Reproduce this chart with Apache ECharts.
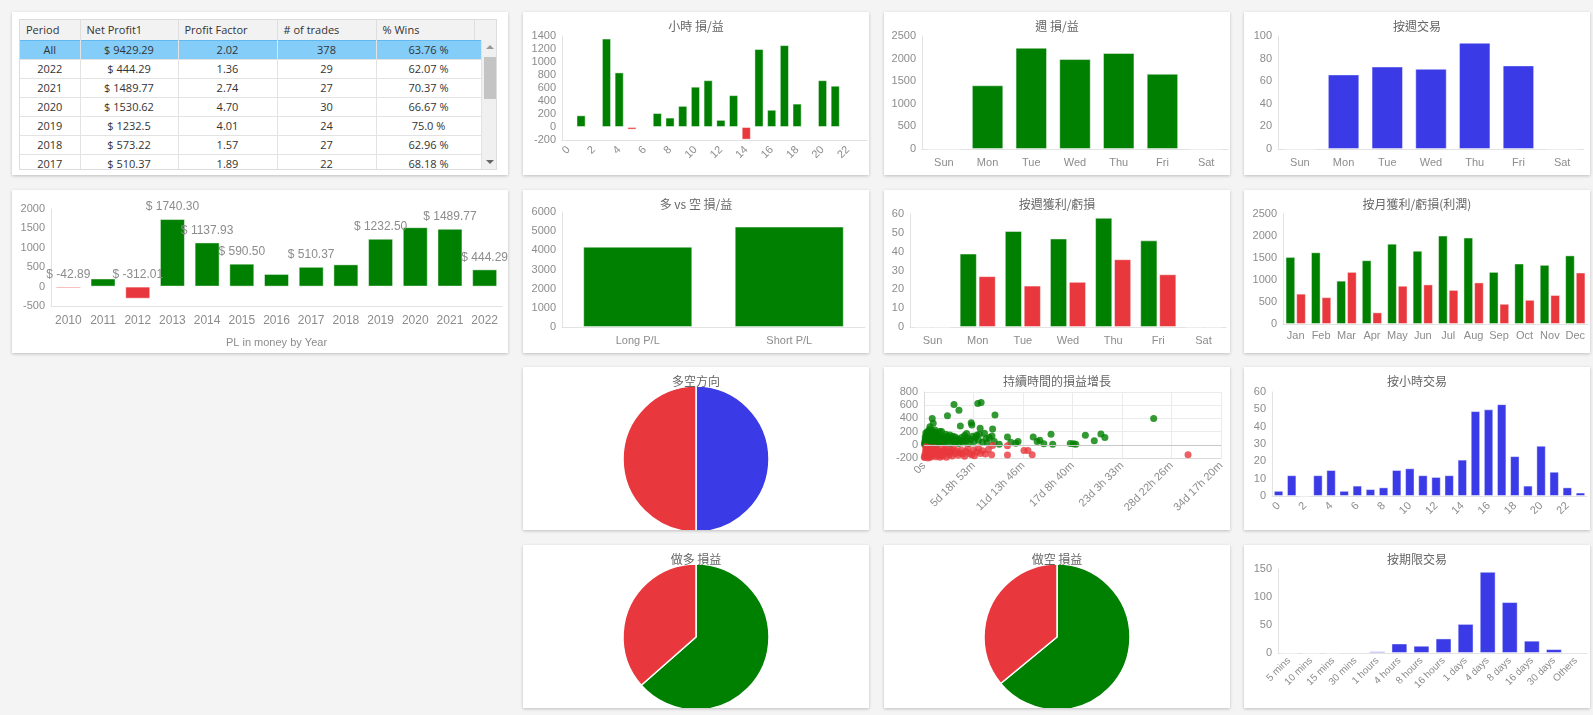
<!DOCTYPE html>
<html><head><meta charset="utf-8">
<script src="https://cdn.jsdelivr.net/npm/echarts@6/dist/echarts.min.js"></script>
<style>
html,body{margin:0;padding:0;background:#f4f4f4;width:1593px;height:715px;overflow:hidden;}
.panel{position:absolute;background:#fff;box-shadow:0 1px 3px rgba(0,0,0,0.22);}
.chart{position:absolute;left:0;top:0;width:100%;height:100%;}
#tbl{position:absolute;left:7px;top:7px;width:478px;height:151px;border:1px solid #dcdcdc;box-sizing:border-box;overflow:hidden;font-family:"Open Sans",sans-serif;font-size:11px;color:#333;}
#tbl table{border-collapse:collapse;table-layout:fixed;}
#hdr td{height:20px;background:#f2f2f2;border-right:1px solid #dedede;border-bottom:1px solid #d6d6d6;padding:0 0 0 6px;text-align:left;box-sizing:border-box;white-space:nowrap;}
#body{position:absolute;left:0;top:20px;width:461px;height:131px;overflow:hidden;}
#body td{height:19px;border-right:1px solid #e3e3e3;border-bottom:1px solid #e3e3e3;text-align:center;padding:0 0 1px 0;box-sizing:border-box;white-space:nowrap;line-height:17px;}
#body tr.sel td{background:#85cdf9;border-top:1px solid #5fb8f0;}
#sb{position:absolute;left:461px;top:20px;width:16px;height:131px;background:#f0f0f0;border-left:1px solid #e3e3e3;}
#sb .up{position:absolute;left:4px;top:5px;width:0;height:0;border-left:4px solid transparent;border-right:4px solid transparent;border-bottom:4px solid #999;}
#sb .dn{position:absolute;left:4px;bottom:7px;width:0;height:0;border-left:4px solid transparent;border-right:4px solid transparent;border-top:4px solid #666;}
#sb .th{position:absolute;left:2px;top:17px;width:12px;height:42px;background:#c4c4c4;}
</style></head>
<body>
<div class="panel" style="left:12px;top:12px;width:496px;height:163px;">
  <div id="tbl">
    <table id="hdr" style="width:478px"><colgroup><col style="width:60px"><col style="width:98px"><col style="width:99px"><col style="width:99px"><col style="width:98px"><col style="width:24px"></colgroup><tbody><tr id="hdrRow"></tr></tbody></table>
    <div id="body"><table style="width:461px"><colgroup><col style="width:60px"><col style="width:98px"><col style="width:99px"><col style="width:99px"><col style="width:105px"></colgroup><tbody id="rows"></tbody></table></div>
    <div id="sb"><div class="up"></div><div class="th"></div><div class="dn"></div></div>
  </div>
</div>
<div class="panel" style="left:12px;top:190px;width:496px;height:163px;"><div class="chart" id="cYear"></div></div>

<div class="panel" style="left:523px;top:12px;width:346px;height:163px;"><div class="chart" id="cHourPL"></div></div>
<div class="panel" style="left:884px;top:12px;width:346px;height:163px;"><div class="chart" id="cWeekPL"></div></div>
<div class="panel" style="left:1244px;top:12px;width:346px;height:163px;"><div class="chart" id="cWeekTr"></div></div>

<div class="panel" style="left:523px;top:190px;width:346px;height:163px;"><div class="chart" id="cLS"></div></div>
<div class="panel" style="left:884px;top:190px;width:346px;height:163px;"><div class="chart" id="cWeekWL"></div></div>
<div class="panel" style="left:1244px;top:190px;width:346px;height:163px;"><div class="chart" id="cMonth"></div></div>

<div class="panel" style="left:523px;top:367px;width:346px;height:163px;"><div class="chart" id="cDir"></div></div>
<div class="panel" style="left:884px;top:367px;width:346px;height:163px;"><div class="chart" id="cScatter"></div></div>
<div class="panel" style="left:1244px;top:367px;width:346px;height:163px;"><div class="chart" id="cHourTr"></div></div>

<div class="panel" style="left:523px;top:545px;width:346px;height:163px;"><div class="chart" id="cLongPie"></div></div>
<div class="panel" style="left:884px;top:545px;width:346px;height:163px;"><div class="chart" id="cShortPie"></div></div>
<div class="panel" style="left:1244px;top:545px;width:346px;height:163px;"><div class="chart" id="cDur"></div></div>

<script>
// ---------------- DATA ----------------
const tableHeaders = ['Period', 'Net Profit1', 'Profit Factor', '# of trades', '% Wins', ''];
const tablePeriods = ['All', '2022', '2021', '2020', '2019', '2018', '2017'];
const tableNetProfit = ['$ 9429.29', '$ 444.29', '$ 1489.77', '$ 1530.62', '$ 1232.5', '$ 573.22', '$ 510.37'];
const tableProfitFactor = ['2.02', '1.36', '2.74', '4.70', '4.01', '1.57', '1.89'];
const tableTrades = ['378', '29', '27', '30', '24', '27', '22'];
const tableWins = ['63.76 %', '62.07 %', '70.37 %', '66.67 %', '75.0 %', '62.96 %', '68.18 %'];

const years = ['2010','2011','2012','2013','2014','2015','2016','2017','2018','2019','2020','2021','2022'];
const yearPL = [-42.89, 208.50, -312.01, 1740.30, 1137.93, 590.50, 326.19, 510.37, 573.22, 1232.50, 1530.62, 1489.77, 444.29];
const hiddenYearLabels = ['2011','2016','2018','2020'];

const hours = ['0','1','2','3','4','5','6','7','8','9','10','11','12','13','14','15','16','17','18','19','20','21','22','23'];
const hourPL = [5, 180, 0, 1360, 840, -40, 15, 215, 145, 325, 620, 720, 110, 490, -195, 1200, 265, 1260, 360, -15, 720, 635, 8, 15];
const hourTrades = [3, 12, 0, 12, 15, 3, 6, 4, 5, 15, 16, 12, 11, 12, 21, 49, 50, 53, 23, 6, 29, 14, 5, 2];

const weekdays = ['Sun','Mon','Tue','Wed','Thu','Fri','Sat'];
const weekPL = [0, 1410, 2240, 1990, 2125, 1665, 0];
const weekTrades = [0, 66, 73, 71, 94, 74, 0];
const weekWins = [0, 39, 51, 47, 58, 46, 0];
const weekLosses = [0, 27, 22, 24, 36, 28, 0];

const lsCats = ['Long P/L', 'Short P/L'];
const lsPL = [4190, 5240];

const months = ['Jan','Feb','Mar','Apr','May','Jun','Jul','Aug','Sep','Oct','Nov','Dec'];
const monthProfit = [1525, 1630, 985, 1450, 1825, 1665, 2010, 1965, 1185, 1375, 1345, 1560];
const monthLoss = [690, 610, 1185, 265, 870, 900, 775, 945, 460, 550, 660, 1170];

const dirNames = ['Long', 'Short'];
const dirCounts = [189, 189];
const longWinLoss = [120, 69];
const shortWinLoss = [121, 68];

const durCats = ['5 mins','10 mins','15 mins','30 mins','1 hours','4 hours','8 hours','16 hours','1 days','4 days','8 days','16 days','30 days','Others'];
const durTrades = [0, 0, 0, 1, 3, 17, 13, 26, 52, 145, 91, 22, 7, 1];

// duration (seconds) vs P/L
const scatterWin = [[5000,10],[8000,30],[10000,60],[12000,120],[14000,20],[18000,180],[20000,90],[22000,40],[25000,150],[28000,70],[30000,10],[33000,110],[36000,200],[38000,50],[40000,140],[43000,190],[45000,30],[48000,90],[50000,160],[53000,60],[56000,230],[60000,275],[62000,120],[65000,20],[68000,80],[70000,170],[73000,40],[76000,130],[80000,210],[83000,400],[86000,60],[90000,100],[93000,325],[96000,150],[100000,30],[105000,190],[110000,225],[113000,80],[118000,120],[122000,50],[126000,170],[130000,100],[135000,20],[140000,140],[145000,60],[150000,90],[158000,200],[165000,40],[170000,120],[177000,200],[185000,70],[195000,100],[205000,30],[215000,90],[225000,130],[237000,440],[245000,60],[255000,110],[265000,20],[275000,80],[285000,100],[295000,50],[303000,610],[315000,120],[325000,40],[340000,90],[353000,525],[360000,70],[367000,285],[380000,110],[395000,30],[410000,140],[425000,60],[440000,100],[455000,20],[470000,80],[477000,335],[483000,300],[490000,130],[505000,50],[520000,110],[535000,150],[543000,625],[550000,70],[560000,160],[567000,250],[577000,640],[590000,40],[610000,175],[625000,90],[640000,30],[660000,110],[687000,135],[693000,240],[710000,50],[717000,450],[760000,10],[843000,120],[877000,40],[927000,25],[950000,50],[1103000,120],[1143000,50],[1170000,70],[1210000,15],[1283000,160],[1300000,10],[1477000,20],[1510000,15],[1533000,10],[1630000,145],[1720000,60],[1787000,165],[1827000,110],[2320000,400],[15000,75],[35000,25],[55000,105],[75000,55],[95000,85],[115000,15],[135000,65],[155000,35],[175000,95],[200000,45],[220000,160],[260000,150],[290000,130],[320000,70],[350000,20],[385000,60],[430000,170]];
const scatterLoss = [[3000,-190],[8000,-150],[10000,-190],[15000,-100],[20000,-60],[25000,-170],[30000,-130],[35000,-80],[40000,-200],[45000,-110],[50000,-160],[55000,-40],[60000,-140],[65000,-190],[70000,-90],[75000,-120],[80000,-170],[90000,-60],[100000,-150],[110000,-100],[120000,-180],[130000,-70],[140000,-130],[150000,-160],[160000,-190],[170000,-110],[180000,-50],[190000,-150],[200000,-90],[210000,-130],[227000,-190],[240000,-70],[255000,-150],[270000,-110],[285000,-170],[300000,-60],[315000,-130],[330000,-90],[345000,-160],[360000,-120],[375000,-80],[390000,-140],[410000,-175],[425000,-100],[440000,-60],[460000,-130],[480000,-150],[500000,-80],[510000,-165],[530000,-110],[550000,-50],[570000,-130],[590000,-90],[620000,-140],[650000,-70],[683000,-150],[693000,-10],[843000,-15],[843000,-155],[1010000,-85],[1050000,-85],[1093000,-150],[2667000,-150],[18000,-30],[38000,-175],[58000,-95],[85000,-130],[105000,-45],[125000,-120],[145000,-85],[165000,-145],[185000,-175],[215000,-60],[250000,-120],[280000,-80]];

// ---------------- TABLE ----------------
document.getElementById('hdrRow').innerHTML = tableHeaders.map(h => '<td>' + h + '</td>').join('');
document.getElementById('rows').innerHTML = tablePeriods.map((p, i) =>
  '<tr' + (i === 0 ? ' class="sel"' : '') + '><td>' + p + '</td><td>' + tableNetProfit[i] + '</td><td>' +
  tableProfitFactor[i] + '</td><td>' + tableTrades[i] + '</td><td>' + tableWins[i] + '</td></tr>').join('');

// ---------------- CHARTS ----------------
const GREEN = '#008000', RED = '#e8383d', BLUE = '#3a3be6';
const FONT = '"Liberation Sans", Arial, sans-serif';
const NARROW = '"Liberation Sans Narrow", "Liberation Sans", Arial, sans-serif';
const BORDER = 'rgba(255,255,255,0.45)';
const plain = v => String(v);

function title(t) {
  return {text: t, left: 'center', top: 3, textStyle: {fontSize: 12, fontWeight: 'normal', color: '#666', fontFamily: '"Noto Sans CJK TC", sans-serif'}};
}
function lbl(ff, extra) { return Object.assign({color: '#8c8c8c', fontSize: 11, fontFamily: ff || FONT}, extra || {}); }
function catAxis(data, ff, extra) {
  return Object.assign({type: 'category', data: data, axisTick: {show: false},
    axisLine: {onZero: false, lineStyle: {color: '#e2e2e2'}}, axisLabel: lbl(ff, {interval: 0, margin: 8})}, extra || {});
}
function valAxis(min, max, interval, ff) {
  return {type: 'value', min: min, max: max, interval: interval, axisTick: {show: false},
    axisLine: {show: true, lineStyle: {color: '#e2e2e2'}}, splitLine: {show: false}, axisLabel: lbl(ff, {margin: 6, formatter: plain})};
}
function grid(l, r, t, b) { return {left: l, right: r, top: t, bottom: b, containLabel: false, outerBoundsMode: 'none'}; }
function mk(id, opt) { const c = echarts.init(document.getElementById(id)); opt.animation = false; c.setOption(opt); return c; }
const signColor = p => (p.value < 0 ? RED : GREEN);

// Year P/L
mk('cYear', {
  grid: grid(39, 6, 19, 47),
  xAxis: catAxis(years, FONT, {name: 'PL in money by Year', nameLocation: 'middle', nameGap: 31,
    nameTextStyle: {color: '#8c8c8c', fontSize: 11, fontFamily: FONT}, axisLabel: lbl(FONT, {interval: 0, margin: 9, fontSize: 12})}),
  yAxis: valAxis(-500, 2000, 500),
  series: [{type: 'bar', barCategoryGap: '28%', itemStyle: {color: signColor, borderColor: BORDER, borderWidth: 1},
    data: yearPL.map((v, i) => ({value: v, label: {show: hiddenYearLabels.indexOf(years[i]) < 0}})),
    label: {position: 'top', distance: 6, color: '#8c8c8c', fontSize: 12, fontFamily: FONT, formatter: p => '$ ' + p.value.toFixed(2)}}]
});

// Hourly P/L
mk('cHourPL', {
  title: title('小時 損/益'),
  grid: grid(39, 2, 24, 35),
  xAxis: catAxis(hours, FONT, {axisLabel: lbl(FONT, {interval: 1, rotate: 45, margin: 8})}),
  yAxis: valAxis(-200, 1400, 200),
  series: [{type: 'bar', barCategoryGap: '28%', itemStyle: {color: signColor, borderColor: BORDER, borderWidth: 1}, data: hourPL}]
});

// Week P/L
mk('cWeekPL', {
  title: title('週 損/益'),
  grid: grid(38, 2, 24, 26),
  xAxis: catAxis(weekdays, NARROW),
  yAxis: valAxis(0, 2500, 500, NARROW),
  series: [{type: 'bar', barCategoryGap: '28%', itemStyle: {color: GREEN, borderColor: BORDER, borderWidth: 1}, data: weekPL}]
});

// Week trades
mk('cWeekTr', {
  title: title('按週交易'),
  grid: grid(34, 6, 24, 26),
  xAxis: catAxis(weekdays, NARROW),
  yAxis: valAxis(0, 100, 20, NARROW),
  series: [{type: 'bar', barCategoryGap: '28%', itemStyle: {color: BLUE, borderColor: BORDER, borderWidth: 1}, data: weekTrades}]
});

// Long vs short
mk('cLS', {
  title: title('多 vs 空 損/益'),
  grid: grid(39, 4, 22, 26),
  xAxis: catAxis(lsCats, NARROW),
  yAxis: valAxis(0, 6000, 1000, NARROW),
  series: [{type: 'bar', barCategoryGap: '28%', itemStyle: {color: GREEN, borderColor: BORDER, borderWidth: 1}, data: lsPL}]
});

// Week win/loss counts
mk('cWeekWL', {
  title: title('按週獲利/虧損'),
  grid: grid(26, 4, 24, 26),
  xAxis: catAxis(weekdays, NARROW),
  yAxis: valAxis(0, 60, 10, NARROW),
  series: [
    {type: 'bar', barCategoryGap: '20%', barGap: '10%', itemStyle: {color: GREEN, borderColor: BORDER, borderWidth: 1}, data: weekWins},
    {type: 'bar', barCategoryGap: '20%', barGap: '10%', itemStyle: {color: RED, borderColor: BORDER, borderWidth: 1}, data: weekLosses}]
});

// Monthly
mk('cMonth', {
  title: title('按月獲利/虧損(利潤)'),
  grid: grid(39, 2, 24, 29),
  xAxis: catAxis(months, FONT, {axisLabel: lbl(FONT, {interval: 0, margin: 6})}),
  yAxis: valAxis(0, 2500, 500),
  series: [
    {type: 'bar', barCategoryGap: '20%', barGap: '10%', itemStyle: {color: GREEN, borderColor: BORDER, borderWidth: 1}, data: monthProfit},
    {type: 'bar', barCategoryGap: '20%', barGap: '10%', itemStyle: {color: RED, borderColor: BORDER, borderWidth: 1}, data: monthLoss}]
});

// Scatter duration vs P/L
function fmtDur(s) {
  if (s === 0) return '0s';
  const d = Math.floor(s / 86400), h = Math.floor((s % 86400) / 3600), m = Math.floor((s % 3600) / 60);
  return d + 'd ' + h + 'h ' + m + 'm';
}
mk('cScatter', {
  title: title('持續時間的損益增長'),
  grid: grid(40, 9, 25, 72),
  xAxis: {type: 'value', min: 0, max: 3000000, interval: 500000, axisTick: {show: false},
    axisLine: {onZero: false, lineStyle: {color: '#dcdcdc'}},
    splitLine: {show: true, lineStyle: {color: '#ebebeb'}},
    axisLabel: lbl(FONT, {rotate: 45, margin: 6, formatter: fmtDur, showMaxLabel: true})},
  yAxis: {type: 'value', min: -200, max: 800, interval: 200, axisTick: {show: false},
    axisLine: {show: true, lineStyle: {color: '#dcdcdc'}},
    splitLine: {show: true, lineStyle: {color: '#ebebeb'}}, axisLabel: lbl(FONT, {margin: 6})},
  series: [
    {type: 'scatter', symbolSize: 7, itemStyle: {color: GREEN}, data: scatterWin,
      markLine: {silent: true, symbol: 'none', label: {show: false}, lineStyle: {color: '#c8c8c8', type: 'solid', width: 1}, data: [{yAxis: 0}]}},
    {type: 'scatter', symbolSize: 7, itemStyle: {color: RED}, data: scatterLoss}]
});

// Hourly trades
mk('cHourTr', {
  title: title('按小時交易'),
  grid: grid(28, 3, 25, 34),
  xAxis: catAxis(hours, FONT, {axisLabel: lbl(FONT, {interval: 1, rotate: 45, margin: 8})}),
  yAxis: valAxis(0, 60, 10),
  series: [{type: 'bar', barCategoryGap: '28%', itemStyle: {color: BLUE, borderColor: BORDER, borderWidth: 1}, data: hourTrades}]
});

// Duration trades
mk('cDur', {
  title: title('按期限交易'),
  grid: grid(34, 3, 24, 55),
  xAxis: catAxis(durCats, FONT, {axisLabel: lbl(FONT, {interval: 0, rotate: 45, margin: 6, fontSize: 10})}),
  yAxis: valAxis(0, 150, 50),
  series: [{type: 'bar', barCategoryGap: '28%', itemStyle: {color: BLUE, borderColor: BORDER, borderWidth: 1}, data: durTrades}]
});

// Pies
function pie(id, t, names, vals, colors) {
  mk(id, {
    title: title(t),
    series: [{type: 'pie', radius: 73, center: ['50%', 92], startAngle: 90, clockwise: true,
      label: {show: false}, labelLine: {show: false}, emphasis: {disabled: true},
      itemStyle: {borderColor: '#fff', borderWidth: 1.5},
      data: vals.map((v, i) => ({name: names[i], value: v, itemStyle: {color: colors[i]}}))}]
  });
}
pie('cDir', '多空方向', dirNames, dirCounts, [BLUE, RED]);
pie('cLongPie', '做多 損益', ['Win', 'Loss'], longWinLoss, [GREEN, RED]);
pie('cShortPie', '做空 損益', ['Win', 'Loss'], shortWinLoss, [GREEN, RED]);
</script>
</body></html>
